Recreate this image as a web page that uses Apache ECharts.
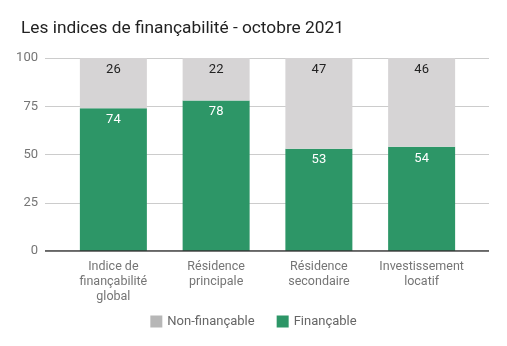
<!DOCTYPE html>
<html>
<head>
<meta charset="utf-8">
<script src="https://cdn.jsdelivr.net/npm/echarts@6/dist/echarts.min.js"></script>
<style>html,body{margin:0;padding:0;background:#fff}#c{width:507px;height:346px}</style>
</head>
<body>
<div id="c"></div>
<script>
var categories = ['Indice de\nfinançabilité\nglobal', 'Résidence\nprincipale', 'Résidence\nsecondaire', 'Investissement\nlocatif'];
var financable = [74, 78, 53, 54];
var nonFinancable = [26, 22, 47, 46];
var yTicks = [0, 25, 50, 75, 100];

var chart = echarts.init(document.getElementById('c'));
var font = 'Roboto';
chart.setOption({
  animation: false,
  backgroundColor: '#fff',
  title: {
    text: 'Les indices de finançabilité - octobre 2021',
    left: 16, top: 15,
    textStyle: {fontFamily: font, fontSize: 17.3, fontWeight: 'normal', color: '#222'}
  },
  legend: {
    bottom: 13, left: 'center',
    itemWidth: 12, itemHeight: 12, itemGap: 22,
    icon: 'rect',
    textStyle: {fontFamily: font, fontSize: 13, color: '#666666'},
    data: [
      {name: 'Non-finançable', itemStyle: {color: '#b7b7b7'}},
      {name: 'Finançable', itemStyle: {color: '#2d9667'}}
    ]
  },
  grid: [
    {left: 45, right: 18, top: 58, bottom: 95},
    {left: 62, right: 34, top: 58, bottom: 95}
  ],
  xAxis: [
    {gridIndex: 0, type: 'value', min: 0, max: 1, show: false},
    {gridIndex: 1, type: 'category', data: categories,
     axisLine: {show: false}, axisTick: {show: false},
     axisLabel: {fontFamily: font, fontSize: 12.5, color: '#757575', lineHeight: 15, margin: 8, interval: 0}}
  ],
  yAxis: [
    {gridIndex: 0, type: 'value', min: 0, max: 100, interval: 25,
     axisLine: {show: false}, axisTick: {show: false},
     axisLabel: {fontFamily: font, fontSize: 13, color: '#757575', margin: 7},
     splitLine: {lineStyle: {color: '#cccccc'}}},
    {gridIndex: 1, type: 'value', min: 0, max: 100, interval: 25, show: false}
  ],
  series: [
    {name: 'Finançable', type: 'bar', stack: 's', xAxisIndex: 1, yAxisIndex: 1,
     data: financable, barWidth: 67,
     itemStyle: {color: '#2d9667'},
     label: {show: true, position: 'insideTop', distance: 5, color: '#fff', fontFamily: font, fontSize: 13}},
    {name: 'Non-finançable', type: 'bar', stack: 's', xAxisIndex: 1, yAxisIndex: 1,
     data: nonFinancable, barWidth: 67,
     itemStyle: {color: '#d6d4d5'},
     label: {show: true, position: 'insideTop', distance: 5, color: '#222', fontFamily: font, fontSize: 13}},
    {type: 'line', xAxisIndex: 0, yAxisIndex: 0, data: [[0, 0], [1, 0]],
     symbol: 'none', lineStyle: {color: '#333', width: 1.3}, silent: true, z: 5, legendHoverLink: false}
  ]
});
</script>
</body>
</html>
